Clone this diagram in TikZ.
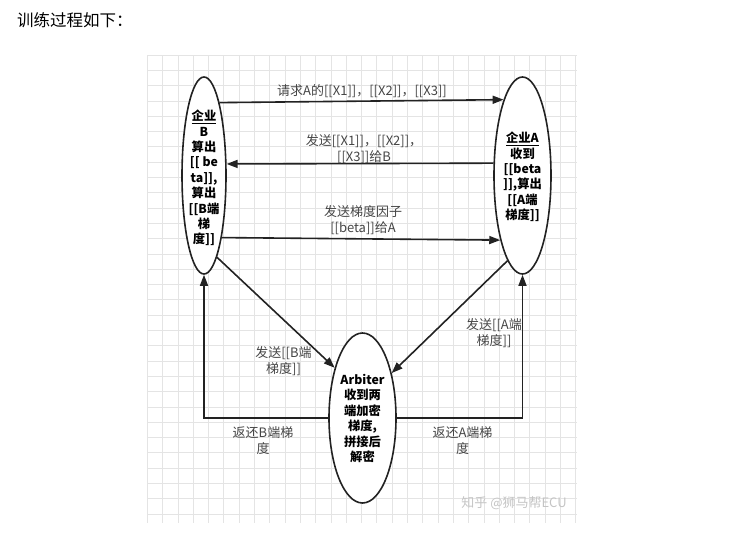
\documentclass[tikz,border=0pt]{standalone}
\usepackage{fontspec}
\setmainfont{Noto Sans CJK SC}
\usetikzlibrary{arrows.meta,shapes.geometric}
\definecolor{gridc}{HTML}{E4E4E4}
\definecolor{lblc}{HTML}{454545}
\definecolor{linec}{HTML}{222222}
\definecolor{wmc}{HTML}{C4C4C4}
\begin{document}
\begin{tikzpicture}[x=1pt,y=-1pt,
  ell/.style={draw=linec, line width=1.6pt, ellipse, inner sep=0pt, fill=white},
  arr/.style={line width=1.6pt, draw=linec, -{Triangle[length=11pt,width=8pt]}},
  lbl/.style={text=lblc, font=\fontsize{13}{16}\selectfont, align=center, inner sep=0pt},
  ntxt/.style={text=black, font=\bfseries\fontsize{12.3}{15.4}\selectfont, align=center, inner sep=0pt}]
\useasboundingbox (0,0) rectangle (735,536);
% grid
\begin{scope}
\clip (147,55) rectangle (577,523);
\foreach \i in {0,...,28} \draw[gridc, line width=0.8pt] ({147.3+15.3*\i},55) -- ({147.3+15.3*\i},523);
\foreach \j in {0,...,30} \draw[gridc, line width=0.8pt] (147,{55+15.3*\j}) -- (577,{55+15.3*\j});
\end{scope}
% title
\node[anchor=west, font=\fontsize{16.5}{19}\selectfont, inner sep=0pt] (title) at (17,20) {训练过程如下：};
% ellipses
\node[ell, minimum width=44pt, minimum height=197pt] (B) at (204,175.5) {};
\node[ell, minimum width=57pt, minimum height=197pt] (A) at (522.5,175.5) {};
\node[ell, minimum width=67pt, minimum height=170pt] (R) at (362.5,418) {};
\node[ntxt] (Bt) at (204,178) {\underline{企业}\\B\\算出\\{[[ be}\\ta]],\\算出\\{[[B端}\\梯\\度]]};
\node[ntxt] (At) at (522.5,177) {\underline{企业A}\\收到\\{[[beta}\\]],算出\\{[[A端}\\梯度]]};
\node[ntxt] (Rt) at (362.5,418.5) {Arbiter\\收到两\\端加密\\梯度,\\拼接后\\解密};
% connectors
\draw[arr] (B.78.7) -- (A.104.5);
\draw[arr] (A.157.9) -- (B.27.8);
\draw[arr] (B.-74.4) -- (A.-109.9);
\draw[arr] (B.-81.5) -- (R.119.7);
\draw[arr] (A.-100.7) -- (R.57);
\draw[arr] (R.west) -| (B.south);
\draw[arr] (R.east) -| (A.south);
% labels
\node[lbl] (l1) at (362,91) {请求A的[[X1]]，[[X2]]，[[X3]]};
\node[lbl] (l2) at (364,149) {发送[[X1]]，[[X2]]，\\{[[X3]]}给B};
\node[lbl] (l3) at (363,220) {发送梯度因子\\{[[beta]]}给A};
\node[lbl] (l4) at (283.5,361.5) {发送[[B端\\梯度]]};
\node[lbl] (l5) at (494,333) {发送[[A端\\梯度]]};
\node[lbl] (l6) at (263,441) {返还B端梯\\度};
\node[lbl] (l7) at (462.5,441) {返还A端梯\\度};
\node[text=wmc, font=\fontsize{13}{15}\selectfont, inner sep=0pt] (wm) at (514,503) {知乎 @狮马帮ECU};
\end{tikzpicture}
\end{document}
